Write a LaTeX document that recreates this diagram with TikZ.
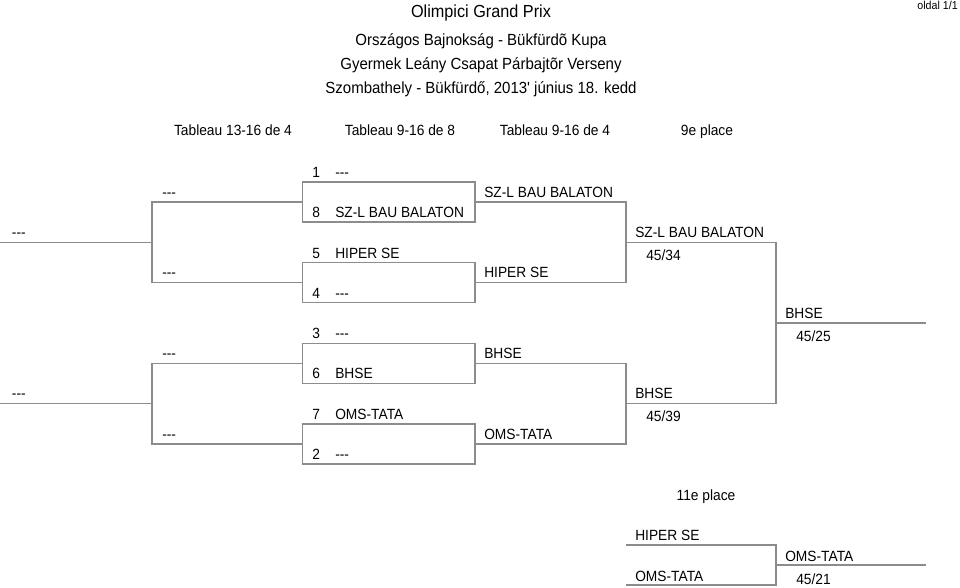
\documentclass[tikz,border=0pt]{standalone}
\usepackage{fontspec}
\newfontfamily\tabfont{Liberation Sans}[FakeStretch=0.93]
\usetikzlibrary{positioning}

\begin{document}
\begin{tikzpicture}[x=0.75pt, y=-0.75pt,
  every node/.style={inner sep=0pt, font=\tabfont\fontsize{11.1}{13}\selectfont},
  lbl/.style={anchor=base west},
  hdr/.style={anchor=base},
  bline/.style={draw=black!45, line width=1pt},
  pool/.style={bline, rectangle, minimum width=129.4pt, minimum height=30pt}]
  \useasboundingbox (0,0) rectangle (960,588);
  % Title block
  \node[hdr, font=\tabfont\fontsize{13.1}{15}\selectfont] (title) at (481,18) {Olimpici Grand Prix};
  \node[hdr, font=\tabfont\fontsize{12.1}{14}\selectfont] (sub1) at (481,45.5) {Országos Bajnokság - Bükfürdõ Kupa};
  \node[hdr, font=\tabfont\fontsize{12.1}{14}\selectfont] (sub2) at (481,69.5) {Gyermek Leány Csapat Párbajtõr Verseny};
  \node[hdr, font=\tabfont\fontsize{12.1}{14}\selectfont] (sub3) at (481,93.5) {Szombathely - Bükfürdő, 2013' június 18. kedd};
  \node[anchor=base east, font=\tabfont\fontsize{8.6}{10}\selectfont] (page) at (958,10) {oldal 1/1};
  % Column heads
  \node[hdr] (h1) at (233,136) {Tableau 13-16 de 4};
  \node[hdr] (h2) at (400,136) {Tableau 9-16 de 8};
  \node[hdr] (h3) at (555,136) {Tableau 9-16 de 4};
  \node[hdr] (h4) at (707,136) {9e place};
  % First round pools with seeds
  \foreach \i/\y/\sa/\ta/\sb/\tb/\w in {1/202/1/---/8/SZ-L BAU BALATON/SZ-L BAU BALATON,
      2/282.7/5/HIPER SE/4/---/HIPER SE, 3/363.3/3/---/6/BHSE/BHSE,
      4/444/7/OMS-TATA/2/---/OMS-TATA}{
    \node[pool] (b\i) at (388.75,\y) {};
    \node[lbl] (sa\i) at (312,\y-24.5) {\sa};
    \node[lbl] (ta\i) at (335,\y-24.5) {\ta};
    \node[lbl] (sb\i) at (312,\y+15.5) {\sb};
    \node[lbl] (tb\i) at (335,\y+15.5) {\tb};
    \node[lbl] (w\i) at (484,\y-5) {\w};
    \node[lbl] (d\i) at (162,\y-5) {---};
  }
  % Joints of the brackets
  \coordinate (l1) at (152,242.3);
  \coordinate (l2) at (152,403.5);
  \coordinate (e1) at (0,242.3);
  \coordinate (e2) at (0,403.5);
  \coordinate (m1) at (626,242.3);
  \coordinate (m2) at (626,403.7);
  \coordinate (f1) at (776,323);
  \coordinate (fe) at (926,323);
  % 13-16 tableau runs to the left
  \draw[bline] (b1.west) -| (l1) |- (b2.west);
  \draw[bline] (b3.west) -| (l2) |- (b4.west);
  \draw[bline] (l1) -- (e1);
  \draw[bline] (l2) -- (e2);
  \node[lbl] (dl1) at (11.7,237.3) {---};
  \node[lbl] (dl2) at (11.7,398.5) {---};
  % 9-16 tableau runs to the right
  \draw[bline] (b1.east) -| (m1) |- (b2.east);
  \draw[bline] (b3.east) -| (m2) |- (b4.east);
  \draw[bline] (m1) -| (f1) |- (m2);
  \draw[bline] (f1) -- (fe);
  \node[lbl] (s1) at (635,237.3) {SZ-L BAU BALATON};
  \node[lbl] (r1) at (646,260) {45/34};
  \node[lbl] (s2) at (635,398.7) {BHSE};
  \node[lbl] (r2) at (646,421.7) {45/39};
  \node[lbl] (nine) at (785,318) {BHSE};
  \node[lbl] (r9) at (796,341) {45/25};
  % 11e place
  \node[hdr] (h5) at (706,500) {11e place};
  \coordinate (p1) at (626,545);
  \coordinate (p2) at (626,585);
  \coordinate (f2) at (776,565);
  \coordinate (pe) at (926,565);
  \draw[bline] (p1) -| (f2) |- (p2);
  \draw[bline] (f2) -- (pe);
  \node[lbl] (q1) at (635,540) {HIPER SE};
  \node[lbl] (q2) at (635,581) {OMS-TATA};
  \node[lbl] (eleven) at (785,561) {OMS-TATA};
  \node[lbl] (r11) at (796,584.3) {45/21};
\end{tikzpicture}
\end{document}
